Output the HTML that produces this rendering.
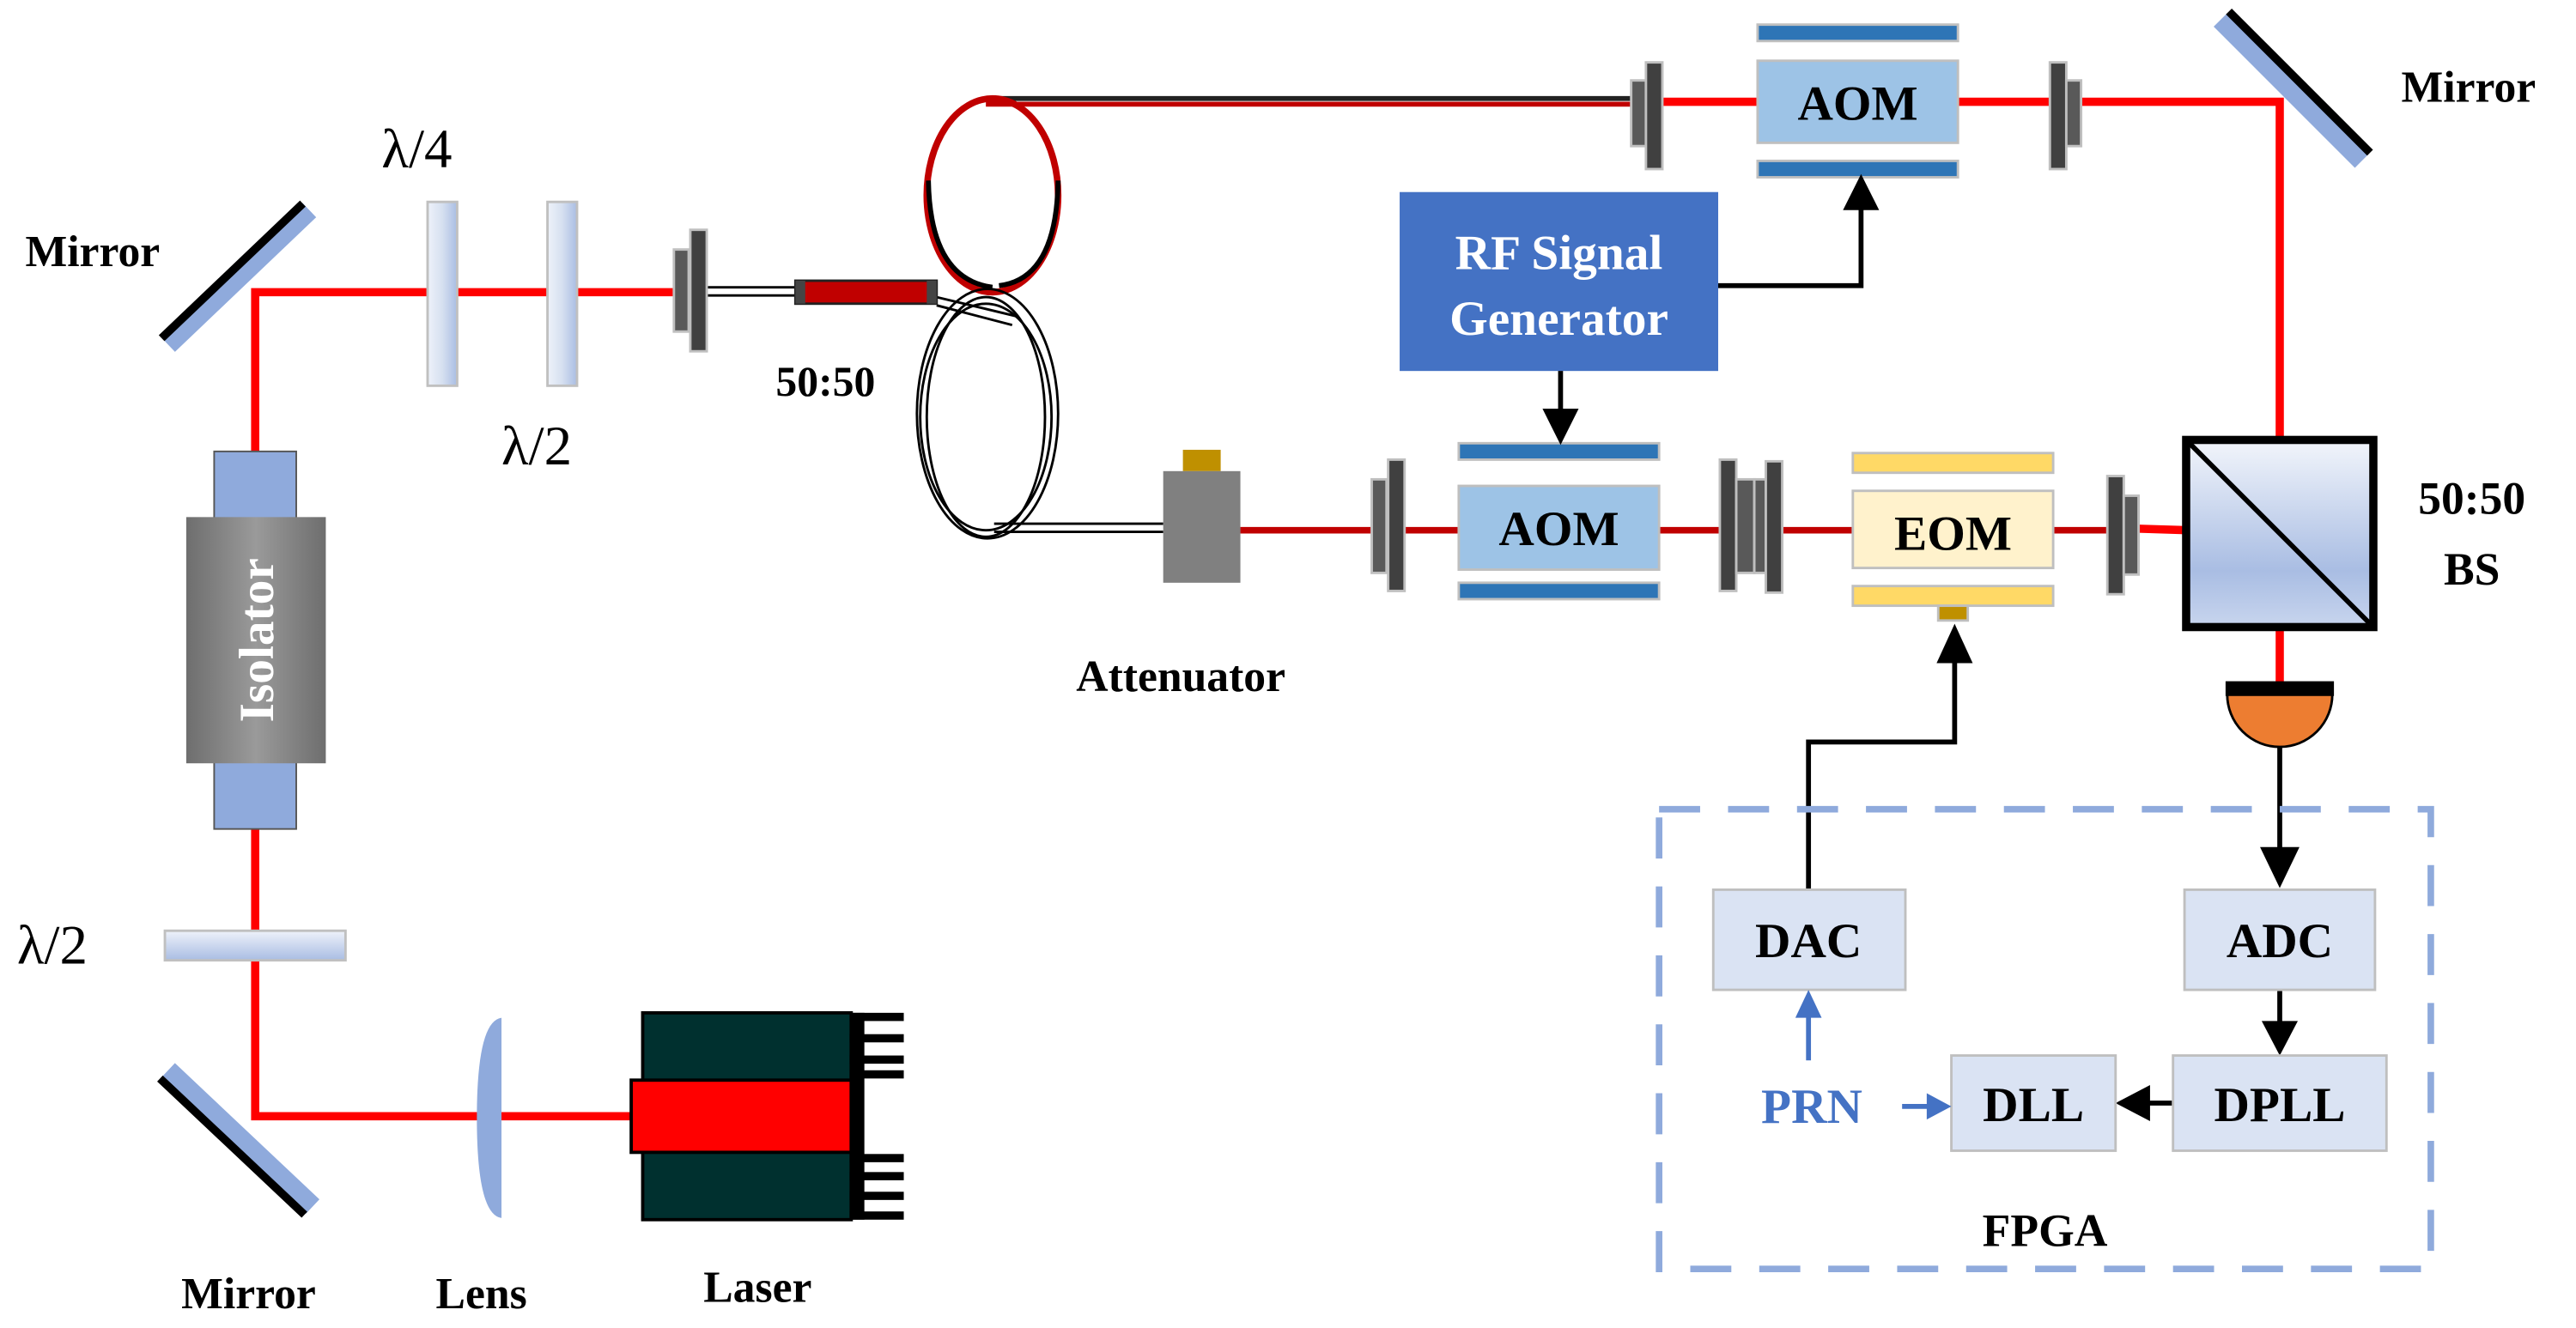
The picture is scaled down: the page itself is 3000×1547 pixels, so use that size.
<!DOCTYPE html>
<html><head><meta charset="utf-8"><style>
html,body{margin:0;padding:0;background:#fff}
svg{display:block}
text{font-family:"Liberation Serif",serif;font-weight:bold}
</style></head><body>
<svg width="3000" height="1547" viewBox="0 0 1568 809" xmlns="http://www.w3.org/2000/svg">
<defs>
<linearGradient id="wp" x1="0" y1="0" x2="1" y2="0"><stop offset="0" stop-color="#eef2fa"/><stop offset="0.5" stop-color="#d6e0f0"/><stop offset="1" stop-color="#a9bde3"/></linearGradient>
<linearGradient id="wph" x1="0" y1="0" x2="0" y2="1"><stop offset="0" stop-color="#eef2fa"/><stop offset="1" stop-color="#a9bde3"/></linearGradient>
<linearGradient id="iso" x1="0" y1="0" x2="1" y2="0"><stop offset="0" stop-color="#6e6e6e"/><stop offset="0.5" stop-color="#9a9a9a"/><stop offset="1" stop-color="#6e6e6e"/></linearGradient>
<linearGradient id="bs" x1="0" y1="0" x2="0" y2="1"><stop offset="0" stop-color="#f2f5fb"/><stop offset="0.7" stop-color="#a9bde3"/><stop offset="1" stop-color="#c8d5ee"/></linearGradient>
</defs>

<!-- beams -->
<g stroke="#ff0000" stroke-width="5" fill="none">
<polyline points="412,178 155,178 155,680 390,680"/>
<polyline points="1010,62 1388,62 1388,268"/>
<line x1="1388" y1="383" x2="1388" y2="416"/>
<line x1="1300" y1="322" x2="1332" y2="323"/>
</g>
<g stroke="#c00000" stroke-width="4">
<line x1="755" y1="323" x2="1290" y2="323"/>
</g>
<!-- top fiber -->
<line x1="600" y1="60" x2="1000" y2="60" stroke="#222" stroke-width="3"/>
<line x1="600" y1="63.5" x2="1000" y2="63.5" stroke="#c00000" stroke-width="3"/>
<ellipse cx="604" cy="119" rx="40" ry="59" fill="none" stroke="#c00000" stroke-width="4"/>
<path d="M565,110 Q566,170 604,175" fill="none" stroke="#000" stroke-width="3"/>
<path d="M644,110 Q643,170 608,174" fill="none" stroke="#000" stroke-width="3"/>
<!-- lower fiber loop -->
<g fill="none" stroke="#000" stroke-width="1.5">
<ellipse cx="600" cy="254" rx="36" ry="73"/>
<ellipse cx="600" cy="254" rx="40" ry="69"/>
<ellipse cx="601" cy="252" rx="43" ry="76"/>
<line x1="570" y1="181" x2="620" y2="193"/>
<line x1="570" y1="186" x2="616" y2="198"/>
<line x1="605" y1="319" x2="708" y2="319"/>
<line x1="605" y1="324" x2="708" y2="324"/>
<line x1="430" y1="175" x2="486" y2="175"/>
<line x1="430" y1="180" x2="486" y2="180"/>
</g>
<!-- coupler -->
<rect x="484" y="171" width="86" height="14" fill="#c00000" stroke="#222" stroke-width="1.5"/>
<rect x="484" y="171" width="6" height="14" fill="#444"/>
<rect x="564" y="171" width="6" height="14" fill="#444"/>
<text x="472" y="241" font-size="26">50:50</text>

<!-- mirrors -->
<line x1="102" y1="210" x2="188" y2="128" stroke="#8faadc" stroke-width="12"/>
<line x1="98" y1="206" x2="184" y2="124" stroke="#000" stroke-width="5"/>
<line x1="102" y1="652" x2="190" y2="735" stroke="#8faadc" stroke-width="12"/>
<line x1="97" y1="657" x2="185" y2="740" stroke="#000" stroke-width="5"/>
<line x1="1352" y1="12" x2="1438" y2="98" stroke="#8faadc" stroke-width="12"/>
<line x1="1357" y1="7" x2="1443" y2="93" stroke="#000" stroke-width="5"/>
<text x="15" y="162" font-size="27">Mirror</text>
<text x="1462" y="62" font-size="27">Mirror</text>
<text x="110" y="797" font-size="27">Mirror</text>

<!-- waveplates -->
<rect x="260" y="123" width="18" height="112" fill="url(#wp)" stroke="#c0c0c0" stroke-width="1.5"/>
<rect x="333" y="123" width="18" height="112" fill="url(#wp)" stroke="#c0c0c0" stroke-width="1.5"/>
<rect x="100" y="567" width="110" height="18" fill="url(#wph)" stroke="#c0c0c0" stroke-width="1.5"/>
<text x="232" y="102" font-size="34" style="font-weight:normal">λ/4</text>
<text x="305" y="283" font-size="34" style="font-weight:normal">λ/2</text>
<text x="10" y="587" font-size="34" style="font-weight:normal">λ/2</text>

<!-- isolator -->
<rect x="130" y="275" width="50" height="42" fill="#8faadc" stroke="#555" stroke-width="1"/>
<rect x="130" y="463" width="50" height="42" fill="#8faadc" stroke="#555" stroke-width="1"/>
<rect x="113" y="315" width="85" height="150" fill="url(#iso)"/>
<text x="0" y="0" font-size="30" fill="#fff" text-anchor="middle" transform="translate(166,390) rotate(-90)">Isolator</text>

<!-- lens -->
<path d="M305,620 L305,742 Q290,740 290,681 Q290,622 305,620 z" fill="#8faadc"/>
<text x="265" y="797" font-size="27">Lens</text>

<!-- laser -->
<rect x="391" y="617" width="127" height="126" fill="#00302f" stroke="#000" stroke-width="2"/>
<rect x="384" y="658" width="134" height="44" fill="#ff0000" stroke="#000" stroke-width="2"/>
<rect x="517" y="617" width="9" height="126" fill="#000"/>
<g fill="#000">
<rect x="517" y="617" width="33" height="5"/><rect x="517" y="630" width="33" height="5"/><rect x="517" y="643" width="33" height="5"/><rect x="517" y="652" width="33" height="5"/>
<rect x="517" y="703" width="33" height="5"/><rect x="517" y="714" width="33" height="5"/><rect x="517" y="726" width="33" height="5"/><rect x="517" y="738" width="33" height="5"/>
</g>
<text x="428" y="793" font-size="27">Laser</text>

<!-- collimators -->
<g stroke="#bfbfbf" stroke-width="1.5">
<rect x="410" y="152" width="9" height="50" fill="#595959"/><rect x="420" y="140" width="10" height="74" fill="#404040"/>
<rect x="993" y="49" width="9" height="40" fill="#595959"/><rect x="1002" y="38" width="10" height="65" fill="#404040"/>
<rect x="1248" y="38" width="10" height="65" fill="#404040"/><rect x="1258" y="49" width="9" height="40" fill="#595959"/>
<rect x="835" y="292" width="9" height="57" fill="#595959"/><rect x="845" y="280" width="10" height="80" fill="#404040"/>
<rect x="1047" y="280" width="10" height="80" fill="#404040"/><rect x="1057" y="292" width="11" height="57" fill="#595959"/><rect x="1068" y="292" width="7" height="57" fill="#595959"/><rect x="1075" y="281" width="10" height="80" fill="#404040"/>
<rect x="1283" y="290" width="10" height="72" fill="#404040"/><rect x="1293" y="302" width="9" height="48" fill="#595959"/>
</g>

<!-- AOM / EOM -->
<g stroke="#bfbfbf" stroke-width="1.5">
<rect x="1070" y="15" width="122" height="10" fill="#2e75b6"/>
<rect x="1070" y="98" width="122" height="10" fill="#2e75b6"/>
<rect x="1070" y="37" width="122" height="50" fill="#9dc3e6"/>
<rect x="888" y="270" width="122" height="10" fill="#2e75b6"/>
<rect x="888" y="355" width="122" height="10" fill="#2e75b6"/>
<rect x="888" y="296" width="122" height="51" fill="#9dc3e6"/>
<rect x="1128" y="276" width="122" height="12" fill="#ffd966"/>
<rect x="1128" y="357" width="122" height="12" fill="#ffd966"/>
<rect x="1128" y="299" width="122" height="47" fill="#fff2cc"/>
<rect x="1180" y="369" width="18" height="9" fill="#bf9000"/>
</g>
<text x="1131" y="73" font-size="30" text-anchor="middle">AOM</text>
<text x="949" y="332" font-size="30" text-anchor="middle">AOM</text>
<text x="1189" y="335" font-size="30" text-anchor="middle">EOM</text>

<!-- attenuator -->
<rect x="720" y="274" width="23" height="13" fill="#bf9000"/>
<rect x="708" y="287" width="47" height="68" fill="#808080"/>
<text x="655" y="421" font-size="27">Attenuator</text>

<!-- RF generator -->
<rect x="852" y="117" width="194" height="109" fill="#4472c4"/>
<text x="949" y="164" font-size="30" fill="#fff" text-anchor="middle">RF Signal</text>
<text x="949" y="204" font-size="30" fill="#fff" text-anchor="middle">Generator</text>
<g stroke="#000" stroke-width="3" fill="none">
<polyline points="1046,174 1133,174 1133,125"/>
<line x1="950" y1="226" x2="950" y2="252"/>
<polyline points="1101,542 1101,452 1190,452 1190,398"/>
<line x1="1388" y1="455" x2="1388" y2="518"/>
<line x1="1388" y1="603" x2="1388" y2="625"/>
<line x1="1323" y1="672" x2="1305" y2="672"/>
</g>
<g fill="#000">
<path d="M1122,128 L1144,128 L1133,106 z"/>
<path d="M939,249 L961,249 L950,271 z"/>
<path d="M1179,404 L1201,404 L1190,380 z"/>
<path d="M1376,516 L1400,516 L1388,541 z"/>
<path d="M1377,622 L1399,622 L1388,643 z"/>
<path d="M1309,661 L1309,683 L1288,672 z"/>
</g>

<!-- BS -->
<rect x="1331" y="268" width="114" height="114" fill="url(#bs)" stroke="#000" stroke-width="5"/>
<line x1="1333" y1="270" x2="1443" y2="380" stroke="#000" stroke-width="3"/>
<text x="1505" y="313" font-size="28" text-anchor="middle">50:50</text>
<text x="1505" y="356" font-size="28" text-anchor="middle">BS</text>

<!-- detector -->
<path d="M1356,423 A32,32 0 0 0 1420,423 z" fill="#ed7d31" stroke="#000" stroke-width="1.5"/>
<rect x="1355" y="415" width="66" height="9" fill="#000"/>

<!-- FPGA -->
<rect x="1010" y="493" width="470" height="280" fill="none" stroke="#8faadc" stroke-width="4" stroke-dasharray="25,17"/>
<g fill="#dae3f3" stroke="#bfbfbf" stroke-width="1.5">
<rect x="1043" y="542" width="117" height="61"/>
<rect x="1330" y="542" width="116" height="61"/>
<rect x="1188" y="643" width="100" height="58"/>
<rect x="1323" y="643" width="130" height="58"/>
</g>
<text x="1101" y="583" font-size="30" text-anchor="middle">DAC</text>
<text x="1388" y="583" font-size="30" text-anchor="middle">ADC</text>
<text x="1238" y="683" font-size="30" text-anchor="middle">DLL</text>
<text x="1388" y="683" font-size="30" text-anchor="middle">DPLL</text>
<text x="1103" y="684" font-size="30" text-anchor="middle" fill="#4472c4">PRN</text>
<g stroke="#4472c4" stroke-width="3">
<line x1="1101" y1="646" x2="1101" y2="615"/>
<line x1="1158" y1="674" x2="1176" y2="674"/>
</g>
<g fill="#4472c4">
<path d="M1093,620 L1109,620 L1101,603 z"/>
<path d="M1173,666 L1173,682 L1188,674 z"/>
</g>
<text x="1245" y="759" font-size="28" text-anchor="middle">FPGA</text>
</svg>
</body></html>
